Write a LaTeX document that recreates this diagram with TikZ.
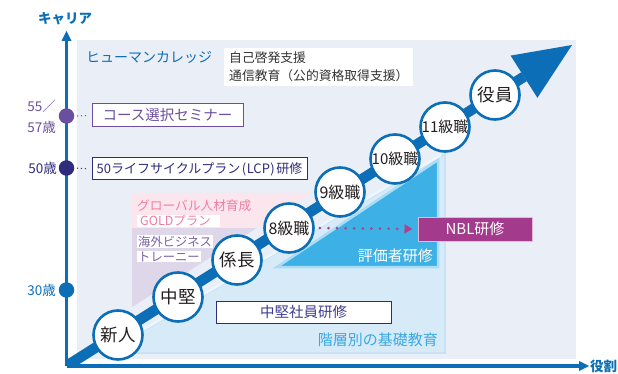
\documentclass[tikz,border=0pt]{standalone}
\usepackage{fontspec}
\setmainfont{Noto Sans CJK JP}
\usetikzlibrary{arrows.meta}
\definecolor{mainblue}{HTML}{0B6EB6}
\definecolor{panel}{HTML}{EAEEF6}
\definecolor{lblue}{HTML}{D6EAF8}
\definecolor{lblueedge}{HTML}{C4E1F5}
\definecolor{lbluestripe}{HTML}{EEF6FD}
\definecolor{tri}{HTML}{3DB1E6}
\definecolor{tribord}{HTML}{ABDCF5}
\definecolor{purp}{HTML}{6B4F9E}
\definecolor{navy}{HTML}{2F2C7B}
\definecolor{midnavy}{HTML}{3F3C8F}
\definecolor{pinkbg}{HTML}{FCE6EE}
\definecolor{pinktx}{HTML}{EE7FA1}
\definecolor{lav}{HTML}{DED7EA}
\definecolor{lavtx}{HTML}{7B64AA}
\definecolor{nbl}{HTML}{A43A8C}
\definecolor{nbledge}{HTML}{E6B7D8}
\definecolor{nbldot}{HTML}{B0418F}
\definecolor{kaiso}{HTML}{3AA9E1}
\definecolor{txt}{HTML}{231F20}
\definecolor{graytx}{HTML}{333333}
\newcommand\fsz[1]{\fontsize{#1}{#1}\selectfont}
\newcommand\lpar{\hspace{1.5pt}(\hspace{0.5pt}}
\newcommand\rpar{\hspace{0.5pt})\hspace{1.5pt}}
\begin{document}
\begin{tikzpicture}[x=1pt,y=-1pt,
  stage/.style={circle,draw=mainblue,line width=2.6pt,fill=white,minimum size=49pt,inner sep=0pt,text=txt},
  agedot/.style={circle,minimum size=15.5pt,inner sep=0pt},
  ageblbl/.style={anchor=east,inner sep=0pt,align=right},
  framebox/.style={draw,line width=1pt,fill=white,inner sep=0pt},
  dotline/.style={line width=1.4pt,dash pattern=on 0pt off 4pt,line cap=round,shorten <=3pt,shorten >=3pt},
  plain/.style={inner sep=0pt},
]
\useasboundingbox (0,0) rectangle (618,374);
% background panel
\fill[panel] (77,40) rectangle (576,359);
% light blue region
\fill[lblue,draw=lblueedge,line width=1.5pt] (106,353) -- (445,154) -- (445,353) -- cycle;
\draw[lbluestripe,line width=2.5pt] (112,348) -- (441,155);
% evaluator triangle
\fill[tri,draw=tribord,line width=2.5pt,line join=miter] (277,267) -- (438,160) -- (438,267) -- cycle;
% pink and lavender regions
\fill[pinkbg] (132,193) -- (312,193) -- (257,228) -- (132,228) -- cycle;
\fill[lav] (132,228) -- (257,228) -- (132,307) -- cycle;

% texts in regions
\node[plain,anchor=west,text=mainblue] (hc) at (86,57) {\fsz{14}ヒューマンカレッジ};
\node[anchor=north west,fill=white,inner xsep=5pt,inner ysep=2pt,text width=179pt,minimum height=38pt,align=left,text=graytx,
  font=\fontsize{12.8}{18}\selectfont] (self) at (224,48)
  {自己啓発支援\\通信教育（公的資格取得支援）};
\node[plain,anchor=west,text=pinktx] (glob) at (137,206) {\fsz{12.7}グローバル人材育成};
\node[anchor=west,fill=white,text=pinktx,inner xsep=3pt,inner ysep=1pt,text width=77pt,align=left,minimum height=12pt,font=\fsz{12.5}] (gold) at (137,221) {GOLDプラン};
\node[anchor=west,fill=white,text=lavtx,inner xsep=1pt,inner ysep=0.5pt] (kaigai) at (137,241.5) {\fsz{12.3}海外ビジネス};
\node[anchor=west,fill=white,text=lavtx,inner xsep=1pt,inner ysep=0.5pt] (trainee) at (137,256.5) {\fsz{12.3}トレーニー};
\node[plain,anchor=east,text=white] (hyoka) at (433,256) {\fsz{15}評価者研修};
\node[plain,anchor=east,text=kaiso] (kaiso) at (438,340) {\fsz{15}階層別の基礎教育};

% boxes
\node[framebox,draw=purp,text=purp,minimum width=151pt,minimum height=23pt] (course) at (167.5,115.5) {\fsz{14.5}コース選択セミナー};
\node[framebox,draw=navy,text=navy,minimum width=215pt,minimum height=22pt] (lcp) at (199.5,169) {\fsz{13}50ライフサイクルプラン\lpar LCP\rpar 研修};
\node[framebox,draw=navy,text=midnavy,minimum width=175pt,minimum height=22pt] (chuken) at (303.5,312) {\fsz{14.5}中堅社員研修};
\node[framebox,fill=nbl,draw=nbledge,text=white,minimum width=114pt,minimum height=24pt] (nbl) at (475,229) {\fsz{15}NBL研修};

% main diagonal arrow
\coordinate (O) at (66.5,366);
\coordinate (hb) at (524,76.7);
\begin{scope}
\clip (66.5,0) rectangle (618,366);
\draw[mainblue,line width=10.5pt] (O) -- (hb);
\end{scope}
\fill[mainblue] (510.6,55.6) -- (572,45) -- (537.4,97.8) -- cycle;

% stages
\node[stage] (s1) at (118,335) {\fsz{17.5}新人};
\node[stage] (s2) at (178,297) {\fsz{17.5}中堅};
\node[stage] (s3) at (237,260) {\fsz{17.5}係長};
\node[stage] (s4) at (289,228) {\fsz{16}8級職};
\node[stage] (s5) at (340,192) {\fsz{16}9級職};
\node[stage] (s6) at (395,159) {\fsz{15}10級職};
\node[stage] (s7) at (445,127) {\fsz{15}11級職};
\node[stage] (s8) at (495,95) {\fsz{17.5}役員};

% NBL dotted arrow
\draw[nbldot,line width=3pt,dash pattern=on 0pt off 8.6pt,line cap=round,shorten <=5pt,shorten >=5pt,-{Triangle[width=9pt,length=8pt]}] (s4.east) -- (nbl.west);

% axes
\coordinate (ytip) at (66.5,31);
\coordinate (xtip) at (589,366);
\draw[mainblue,line width=3.6pt,-{Triangle[width=10pt,length=10pt,line width=0pt]}] (O) -- (ytip);
\draw[mainblue,line width=3.6pt,-{Triangle[width=10pt,length=10pt,line width=0pt]}] (O) -- (xtip);
\node[plain,text=mainblue,font=\bfseries] (ylab) at (65,19) {\fsz{13.5}キャリア};
\node[plain,anchor=west,text=mainblue,font=\bfseries] (xlab) at (590,366) {\fsz{13.5}役割};

% age markers
\node[agedot,fill=purp] (d55) at (66.5,116) {};
\node[agedot,fill=navy] (d50) at (66.5,168) {};
\node[agedot,fill=mainblue] (d30) at (66.5,290) {};
\node[ageblbl,text=purp,font=\fontsize{13.5}{21}\selectfont] (l55) at (56,116.5) {55／\\57歳};
\node[ageblbl,text=navy] (l50) at (57,168) {\fsz{13.5}50歳};
\node[ageblbl,text=mainblue] (l30) at (56,290) {\fsz{13.5}30歳};
\draw[dotline,purp] (d55.east) -- (course.west);
\draw[dotline,navy] (d50.east) -- (lcp.west);
\end{tikzpicture}
\end{document}
